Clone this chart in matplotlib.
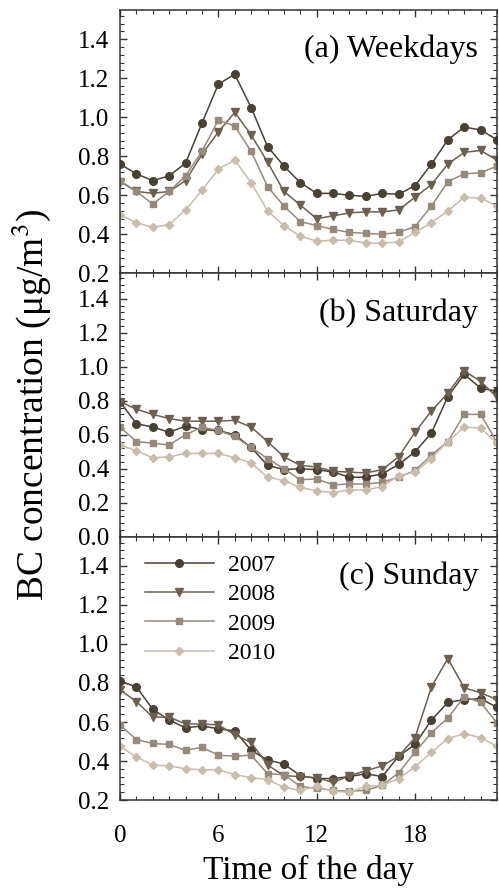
import matplotlib
matplotlib.use("Agg")
import matplotlib.pyplot as plt
from matplotlib.ticker import MultipleLocator, AutoMinorLocator

plt.rcParams['font.family'] = ['Liberation Serif', 'DejaVu Serif']
plt.rcParams['mathtext.fontset'] = 'stix'

hours = list(range(24))
years = ['2007', '2008', '2009', '2010']
colors = ['#4a4135', '#6b6052', '#958a7c', '#c8bcad']
markers = ['o', 'v', 's', 'D']
msizes = [5.5, 5.5, 5, 4.5]

# (a) Weekdays
wk_2007 = [0.76, 0.71, 0.675, 0.70, 0.765, 0.97, 1.17, 1.22, 1.05, 0.85, 0.75, 0.665,
           0.61, 0.61, 0.60, 0.595, 0.61, 0.605, 0.65, 0.76, 0.885, 0.95, 0.935, 0.885]
wk_2008 = [0.67, 0.62, 0.61, 0.62, 0.675, 0.81, 0.925, 1.025, 0.91, 0.77, 0.62, 0.55,
           0.48, 0.495, 0.51, 0.515, 0.515, 0.525, 0.59, 0.655, 0.76, 0.82, 0.83, 0.78]
wk_2009 = [0.675, 0.62, 0.555, 0.62, 0.70, 0.825, 0.985, 0.955, 0.825, 0.645, 0.545, 0.465,
           0.445, 0.425, 0.41, 0.405, 0.40, 0.41, 0.44, 0.545, 0.67, 0.71, 0.715, 0.75]
wk_2010 = [0.50, 0.46, 0.435, 0.45, 0.525, 0.625, 0.735, 0.78, 0.665, 0.52, 0.445, 0.39,
           0.365, 0.37, 0.37, 0.355, 0.355, 0.36, 0.41, 0.46, 0.52, 0.59, 0.585, 0.545]

# (b) Saturday
sa_2007 = [0.795, 0.665, 0.645, 0.615, 0.65, 0.63, 0.625, 0.60, 0.525, 0.42, 0.395, 0.40,
           0.395, 0.38, 0.35, 0.35, 0.37, 0.425, 0.50, 0.61, 0.825, 0.955, 0.875, 0.855]
sa_2008 = [0.795, 0.75, 0.72, 0.695, 0.68, 0.68, 0.68, 0.685, 0.645, 0.56, 0.47, 0.42,
           0.41, 0.385, 0.38, 0.375, 0.395, 0.47, 0.615, 0.74, 0.845, 0.975, 0.915, 0.82]
sa_2009 = [0.645, 0.56, 0.55, 0.54, 0.60, 0.645, 0.625, 0.59, 0.525, 0.46, 0.40, 0.335,
           0.34, 0.305, 0.31, 0.31, 0.32, 0.35, 0.39, 0.48, 0.56, 0.72, 0.72, 0.555]
sa_2010 = [0.54, 0.505, 0.465, 0.47, 0.49, 0.49, 0.49, 0.465, 0.435, 0.35, 0.33, 0.29,
           0.27, 0.26, 0.275, 0.275, 0.295, 0.36, 0.38, 0.46, 0.56, 0.645, 0.64, 0.55]

# (c) Sunday
su_2007 = [0.81, 0.78, 0.665, 0.61, 0.57, 0.58, 0.565, 0.555, 0.455, 0.405, 0.385, 0.325,
           0.31, 0.31, 0.32, 0.335, 0.32, 0.425, 0.485, 0.61, 0.70, 0.715, 0.72, 0.675]
su_2008 = [0.765, 0.705, 0.625, 0.625, 0.59, 0.59, 0.585, 0.535, 0.495, 0.38, 0.325, 0.32,
           0.315, 0.29, 0.325, 0.35, 0.375, 0.425, 0.52, 0.78, 0.925, 0.775, 0.75, 0.715]
su_2009 = [0.585, 0.51, 0.49, 0.485, 0.455, 0.47, 0.43, 0.425, 0.43, 0.335, 0.33, 0.27,
           0.26, 0.25, 0.245, 0.25, 0.275, 0.34, 0.445, 0.545, 0.62, 0.73, 0.70, 0.595]
su_2010 = [0.475, 0.42, 0.38, 0.375, 0.36, 0.355, 0.355, 0.33, 0.315, 0.305, 0.265, 0.25,
           0.27, 0.245, 0.24, 0.27, 0.275, 0.31, 0.37, 0.445, 0.515, 0.54, 0.52, 0.475]

panels = [
    ('(a) Weekdays', [wk_2007, wk_2008, wk_2009, wk_2010], 0.2),
    ('(b) Saturday', [sa_2007, sa_2008, sa_2009, sa_2010], 0.0),
    ('(c) Sunday', [su_2007, su_2008, su_2009, su_2010], 0.2),
]

fig = plt.figure(figsize=(4.99, 8.92), dpi=100)
left, right = 0.2405, 0.996
top, bottom = 0.9888, 0.1031
h = (top - bottom) / 3

axes = []
for i, (title, series, ymin) in enumerate(panels):
    ax = fig.add_axes([left, top - (i + 1) * h, right - left, h])
    axes.append(ax)
    for y, lab, c, m, ms in zip(series, years, colors, markers, msizes):
        ax.plot(hours, y, color=c, marker=m, markersize=ms, lw=1.1, label=lab,
                markeredgecolor=c)
    ax.set_xlim(0, 23)
    ax.set_ylim(ymin, 1.55)
    ax.xaxis.set_major_locator(MultipleLocator(6))
    ax.xaxis.set_minor_locator(AutoMinorLocator(6))
    ax.yaxis.set_major_locator(MultipleLocator(0.2))
    ax.yaxis.set_minor_locator(AutoMinorLocator(5))
    ax.tick_params(which='both', direction='in', top=True, right=True,
                   colors='#333333', labelcolor='black', labelsize=18)
    ax.tick_params(axis='y', pad=8)
    ax.tick_params(axis='x', pad=18)
    ax.tick_params(which='major', length=5, width=1)
    ax.tick_params(which='minor', length=3, width=0.8)
    ax.yaxis.set_major_formatter(matplotlib.ticker.FormatStrFormatter('%.1f'))
    for s in ax.spines.values():
        s.set_color('#333333')
        s.set_linewidth(1.1)
    ax.text(0.95, 0.85, title, transform=ax.transAxes, ha='right', va='center',
            fontsize=23)
    if i < 2:
        ax.tick_params(labelbottom=False)

axes[2].legend(loc='upper left', bbox_to_anchor=(0.02, 1.0), frameon=False,
               fontsize=17, handlelength=2.9, handletextpad=0.6,
               labelspacing=0.33, borderaxespad=0.35)
axes[2].set_xlabel('Time of the day', fontsize=24, labelpad=6)
fig.text(0.062, 0.546, r'BC concentration ($\mathregular{\mu}$g/m$^{3}$)',
         rotation=90, ha='center', va='center', fontsize=27)

fig.savefig('out.png', dpi=100)
